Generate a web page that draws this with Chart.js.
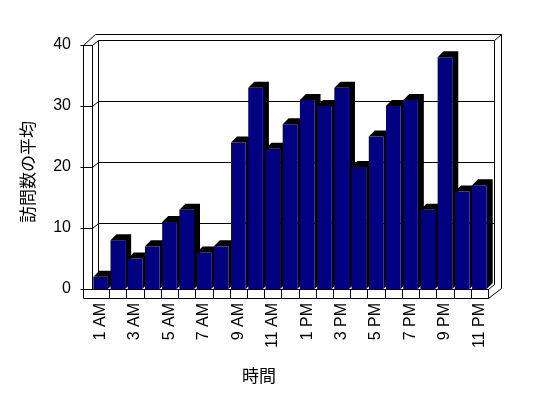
<!DOCTYPE html>
<html>
<head>
<meta charset="utf-8">
<script src="https://cdn.jsdelivr.net/npm/chart.js@4"></script>
<style>
  html, body { margin: 0; padding: 0; background: #ffffff; }
  #chart { display: block; }
</style>
</head>
<body>
<canvas id="chart" width="548" height="398"></canvas>
<script>
const hourLabels = ['1 AM', '2 AM', '3 AM', '4 AM', '5 AM', '6 AM', '7 AM', '8 AM', '9 AM', '10 AM', '11 AM',
    '12 PM', '1 PM', '2 PM', '3 PM', '4 PM', '5 PM', '6 PM', '7 PM', '8 PM', '9 PM', '10 PM', '11 PM'];
const avgVisits = [2, 8, 5, 7, 11, 13, 6, 7, 24, 33, 23, 27, 31, 30, 33, 20, 25, 30, 31, 13, 38, 16, 17];
const yTicks = [0, 10, 20, 30, 40];

const xTitle = '時間';
const yTitle = '訪問数の平均';

const TICK_FONT = { family: '"Liberation Sans", Arial, sans-serif', size: 16 };
const TITLE_FONT = '17px "Noto Sans CJK JP", sans-serif';

// wall offset (back plane) and bar depth
const WALL_DX = 6;
const WALL_DY = 5;
const BAR_D = 6;

const crisp = (v) => Math.round(v) + 0.5;

const line = (ctx, x1, y1, x2, y2) => {
    ctx.beginPath();
    ctx.moveTo(crisp(x1), crisp(y1));
    ctx.lineTo(crisp(x2), crisp(y2));
    ctx.stroke();
};

const box3d = {
    id: 'box3d',
    beforeDatasetsDraw(chart) {
        const ctx = chart.ctx;
        const { left: L, right: R, top: T, bottom: B } = chart.chartArea;
        const yScale = chart.scales.y;
        const xScale = chart.scales.x;
        ctx.save();
        ctx.strokeStyle = '#000000';
        ctx.lineWidth = 1;

        // back wall inner face
        line(ctx, L + WALL_DX, T - WALL_DY, R + WALL_DX, T - WALL_DY);
        line(ctx, R + WALL_DX, T - WALL_DY, R + WALL_DX, B - WALL_DY);
        // back wall thickness
        line(ctx, L + 3, T - 11, R + 13, T - 11);
        line(ctx, R + WALL_DX, T - WALL_DY, R + 13, T - 11);
        line(ctx, R + 13, T - 11, R + 13, B - 1);

        // left wall
        line(ctx, L - 9, T, L - 9, B + 9);
        line(ctx, L, T, L, B);
        line(ctx, L - 9, T, L + 3, T - 11);
        line(ctx, L, T, L + WALL_DX, T - WALL_DY);
        line(ctx, L + WALL_DX, T - WALL_DY, L + WALL_DX, B - WALL_DY);

        // grid lines on the back wall, ticks on the left wall
        yTicks.forEach((v) => {
            const y = yScale.getPixelForValue(v);
            line(ctx, L - 12, y, L, y);
            if (v > 0 && v < 40) {
                line(ctx, L, y, L + WALL_DX, y - WALL_DY);
                line(ctx, L + WALL_DX, y - WALL_DY, R + WALL_DX, y - WALL_DY);
            }
        });

        // floor slab
        line(ctx, L - 9, B, R, B);
        line(ctx, L - 9, B + 9, R, B + 9);
        line(ctx, R, B, R, B + 9);
        line(ctx, R, B, R + WALL_DX, B - WALL_DY);
        line(ctx, R, B + 9, R + 13, B - 1);
        for (let i = 1; i < hourLabels.length; i++) {
            const x = (xScale.getPixelForValue(i - 1) + xScale.getPixelForValue(i)) / 2;
            line(ctx, x, B, x, B + 9);
        }

        // bar sides and tops
        const meta = chart.getDatasetMeta(0);
        ctx.fillStyle = '#000000';
        meta.data.forEach((bar) => {
            const { x, y, base, width } = bar.getProps(['x', 'y', 'base', 'width'], true);
            const l = x - width / 2;
            const r = x + width / 2;
            ctx.beginPath();
            ctx.moveTo(l, y);
            ctx.lineTo(l + BAR_D, y - BAR_D);
            ctx.lineTo(r + BAR_D, y - BAR_D);
            ctx.lineTo(r + BAR_D, base - BAR_D);
            ctx.lineTo(r, base);
            ctx.lineTo(r, y);
            ctx.closePath();
            ctx.fill();
        });
        ctx.restore();
    },
    afterDraw(chart) {
        const ctx = chart.ctx;
        ctx.save();
        ctx.fillStyle = '#000000';
        ctx.font = TITLE_FONT;
        ctx.textAlign = 'center';
        ctx.textBaseline = 'middle';
        ctx.fillText(xTitle, 259, 376);
        ctx.translate(28, 172);
        ctx.rotate(-Math.PI / 2);
        ctx.fillText(yTitle, 0, 0);
        ctx.restore();
    }
};

new Chart(document.getElementById('chart').getContext('2d'), {
    type: 'bar',
    data: {
        labels: hourLabels,
        datasets: [{
            label: yTitle,
            data: avgVisits,
            backgroundColor: '#000080',
            borderWidth: 0,
            barPercentage: 0.85,
            categoryPercentage: 1.0
        }]
    },
    options: {
        responsive: false,
        animation: false,
        layout: { padding: { top: 45, right: 60, left: 0, bottom: 0 } },
        plugins: {
            legend: { display: false },
            tooltip: { enabled: false }
        },
        scales: {
            x: {
                grid: { display: false, drawTicks: false },
                border: { display: false },
                ticks: {
                    color: '#000000',
                    font: TICK_FONT,
                    autoSkip: false,
                    minRotation: 90,
                    maxRotation: 90,
                    padding: 14,
                    callback: (value, index) => (index % 2 === 0 ? hourLabels[index] : '')
                },
                afterFit: (scale) => { scale.height = 109; }
            },
            y: {
                min: 0,
                max: 40,
                grid: { display: false, drawTicks: false },
                border: { display: false },
                ticks: {
                    color: '#000000',
                    font: TICK_FONT,
                    stepSize: 10,
                    padding: 21
                },
                afterFit: (scale) => { scale.width = 92; }
            }
        }
    },
    plugins: [box3d]
});
</script>
</body>
</html>
